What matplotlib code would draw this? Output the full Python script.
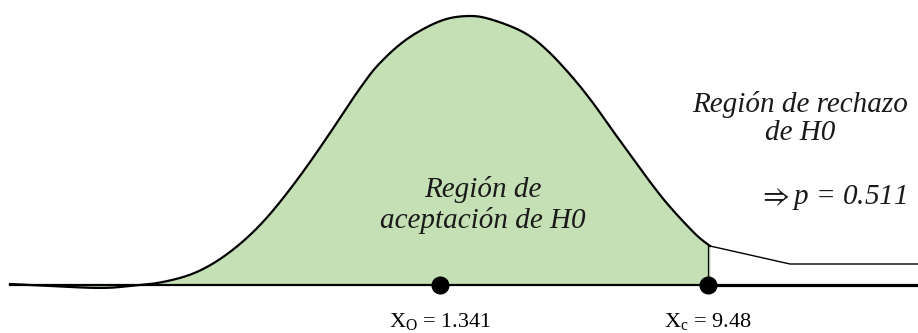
import numpy as np
import matplotlib
matplotlib.use('Agg')
import matplotlib.pyplot as plt

plt.rcParams['font.family'] = ['Liberation Serif', 'DejaVu Serif']
plt.rcParams['mathtext.fontset'] = 'custom'
plt.rcParams['mathtext.rm'] = 'Liberation Serif'
plt.rcParams['mathtext.it'] = 'Liberation Serif:italic'

# curva de densidad, altura sobre el eje
curve_x = [10, 50, 100, 130, 163, 197, 230, 263, 297, 330, 360, 380, 407,
           440, 467, 490, 523, 547, 573, 593, 610, 627, 660, 693, 710]
curve_y = [1, -1, -3, -1, 3, 13, 33, 63, 105, 152, 197, 222, 246,
           264, 269, 266, 253, 235, 207, 182, 158, 135, 90, 53, 39]

# cola de la region de rechazo
tail_x = [710, 790, 918]
tail_y = [39, 21, 21]

# eje horizontal
axis_x = [10, 708, 918]

# puntos marcados
point_x = [440, 708]
point_labels = [r'X$_\mathrm{O}$ = 1.341', r'X$_\mathrm{c}$ = 9.48']


def smooth(xs, ys, n=20, win=9):
    # catmull-rom + media movil, solo para dibujar la curva sin quiebres
    xs = np.asarray(xs, float)
    ys = np.asarray(ys, float)
    px = np.concatenate([[xs[0]], xs, [xs[-1]]])
    py = np.concatenate([[ys[0]], ys, [ys[-1]]])
    ox, oy = [], []
    t = np.linspace(0, 1, n, endpoint=False)
    for i in range(1, len(px) - 2):
        for p, o in ((px, ox), (py, oy)):
            p0, p1, p2, p3 = p[i - 1], p[i], p[i + 1], p[i + 2]
            o.extend(0.5 * ((2 * p1) + (-p0 + p2) * t
                            + (2 * p0 - 5 * p1 + 4 * p2 - p3) * t ** 2
                            + (-p0 + 3 * p1 - 3 * p2 + p3) * t ** 3))
    ox.append(xs[-1])
    oy.append(ys[-1])
    ox, oy = np.array(ox), np.array(oy)
    k = np.ones(win) / win
    pad = win // 2
    oy2 = np.convolve(np.pad(oy, pad, mode='edge'), k, mode='valid')
    oy2[:pad] = oy[:pad]
    oy2[-pad:] = oy[-pad:]
    return ox, oy2


fig = plt.figure(figsize=(9.18, 3.33), dpi=100)
ax = fig.add_axes([0, 0, 1, 1])
ax.set_xlim(0, 918)
ax.set_ylim(-48, 285)
ax.axis('off')

sx, sy = smooth(curve_x, curve_y)

# region de aceptacion
ax.fill_between(sx, sy, 0, color='#C5E0B4', lw=0, zorder=1)
ax.plot(sx, sy, color='black', lw=1.6, zorder=3)

# limite y cola
ax.plot([point_x[1], point_x[1]], [0, curve_y[-1]], color='black', lw=0.9, zorder=3)
ax.plot(tail_x, tail_y, color='black', lw=1.0, zorder=3)

# eje
ax.plot(axis_x[:2], [0, 0], color='black', lw=1.6, zorder=4)
ax.plot(axis_x[1:], [0, 0], color='black', lw=2.3, zorder=4)

ax.plot(point_x, [0] * len(point_x), 'o', color='black', markersize=12, zorder=5)

for x, lab in zip(point_x, point_labels):
    ax.text(x, -37, lab, ha='center', va='center', fontsize=16, color='black')

ax.text(483, 80, 'Región de\naceptación de H0', ha='center', va='center',
        fontsize=21, style='italic', color='#1a1a1a', linespacing=1.15)
ax.text(800, 167, 'Región de rechazo\nde H0', ha='center', va='center',
        fontsize=21, style='italic', color='#1a1a1a', linespacing=1.1)
ax.text(907, 87, r'$\Rightarrow$p = 0.511', ha='right', va='center',
        fontsize=21, style='italic', color='#1a1a1a', math_fontfamily='stix')

fig.savefig('out.png', dpi=100)
